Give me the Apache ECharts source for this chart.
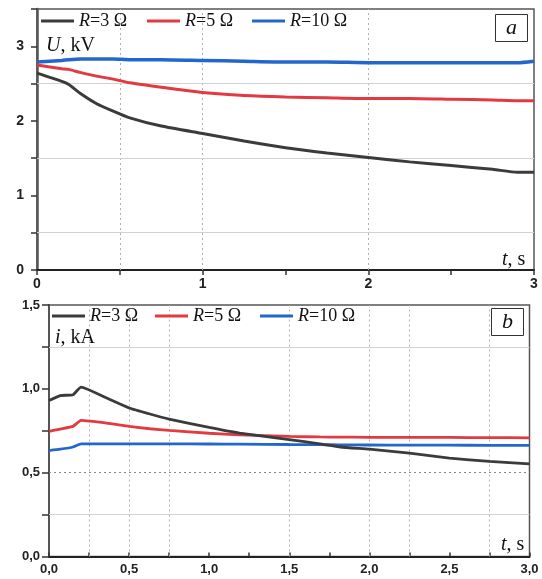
<!DOCTYPE html>
<html>
<head>
<meta charset="utf-8">
<script src="https://cdn.jsdelivr.net/npm/echarts@6/dist/echarts.min.js"></script>
<style>html,body{margin:0;padding:0;background:#fff;}#c{width:542px;height:579px;}</style>
</head>
<body>
<div id="c"></div>
<script>
// ---- Data: chart (a) voltage U, kV vs t, s ----
var tA   = [0, 0.15, 0.19, 0.26, 0.36, 0.46, 0.56, 0.75, 1.0, 1.25, 1.5, 1.75, 2.0, 2.25, 2.5, 2.75, 2.9, 3.0];
var uR3  = [2.64, 2.53, 2.49, 2.37, 2.23, 2.13, 2.04, 1.93, 1.83, 1.73, 1.64, 1.57, 1.51, 1.45, 1.40, 1.35, 1.31, 1.31];
var uR5  = [2.75, 2.70, 2.69, 2.65, 2.60, 2.56, 2.51, 2.45, 2.38, 2.34, 2.32, 2.31, 2.30, 2.30, 2.29, 2.28, 2.27, 2.27];
var uR10 = [2.79, 2.81, 2.82, 2.83, 2.83, 2.83, 2.82, 2.82, 2.81, 2.80, 2.79, 2.79, 2.78, 2.78, 2.78, 2.78, 2.78, 2.80];

// ---- Data: chart (b) current i, kA vs t, s ----
var tB   = [0, 0.07, 0.15, 0.2, 0.36, 0.5, 0.63, 0.75, 1.0, 1.19, 1.5, 1.69, 1.82, 2.0, 2.25, 2.5, 2.75, 3.0];
var iR3  = [0.93, 0.96, 0.965, 1.01, 0.945, 0.886, 0.85, 0.82, 0.77, 0.736, 0.697, 0.672, 0.653, 0.64, 0.617, 0.587, 0.567, 0.553];
var iR5  = [0.746, 0.76, 0.776, 0.812, 0.796, 0.776, 0.762, 0.752, 0.735, 0.726, 0.716, 0.713, 0.712, 0.711, 0.71, 0.71, 0.709, 0.708];
var iR10 = [0.632, 0.64, 0.653, 0.672, 0.672, 0.672, 0.672, 0.672, 0.671, 0.67, 0.668, 0.667, 0.666, 0.665, 0.664, 0.664, 0.663, 0.663];

// ---- Reference grid lines (axis values) ----
var gridXA = [0.5, 1, 2];
var gridYA = [0.5, 1.5, 2.5];
var gridXB = [0.25, 0.5, 0.75, 1.5, 2, 2.25, 2.75];
var gridYB = [0.25, 1.25];
var gridYBDotted = [0.5];

var seriesNames = ['R=3 Ω', 'R=5 Ω', 'R=10 Ω'];
var colors = ['#3b3b3b', '#e23a40', '#2467cc'];

function pairs(xs, ys) { return xs.map(function (x, k) { return [x, ys[k]]; }); }

var serif = '"Liberation Serif", "Times New Roman", serif';
var sans = '"Liberation Sans", Arial, sans-serif';
var G = '#d2d2d2', D = '#b0b0b0';

function legendItem(name, left, top) {
  return {
    data: [name], left: left, top: top, orient: 'horizontal',
    icon: 'rect', itemWidth: 33, itemHeight: 3, itemGap: 0, padding: 0,
    selectedMode: false,
    textStyle: { fontFamily: serif, fontSize: 18, color: '#111', rich: { i: { fontFamily: serif, fontSize: 18, fontStyle: 'italic', color: '#111' } } },
    formatter: function (n) { return '{i|R}' + n.slice(1); }
  };
}

function gridMarks(xs, ys, ysDotted) {
  var d = [];
  xs.forEach(function (v) { d.push({ xAxis: v, lineStyle: { type: [2, 3], color: D, width: 1 } }); });
  ys.forEach(function (v) { d.push({ yAxis: v, lineStyle: { type: 'solid', color: G, width: 1.2 } }); });
  (ysDotted || []).forEach(function (v) { d.push({ yAxis: v, lineStyle: { type: [2, 3], color: '#888', width: 1 } }); });
  return { silent: true, symbol: 'none', label: { show: false }, animation: false, z: 1, data: d };
}

function valueAxisLabel(size, comma, step) {
  return function (v) {
    var k = Math.round(v * 100);
    if (k % step !== 0) return '';
    return comma ? v.toFixed(1).replace('.', ',') : String(Math.round(v));
  };
}

var chart = echarts.init(document.getElementById('c'));
chart.setOption({
  backgroundColor: '#fff',
  animation: false,
  grid: [
    { left: 37, top: 9, right: 8, height: 261, show: true, borderColor: '#555', borderWidth: 1.5, backgroundColor: 'transparent' },
    { left: 49, top: 305, right: 12.5, height: 251.5, show: true, borderColor: '#555', borderWidth: 1.5, backgroundColor: 'transparent' }
  ],
  legend: [
    legendItem(seriesNames[0], 41, 12),
    legendItem(seriesNames[1], 147, 12),
    legendItem(seriesNames[2], 252, 12),
    legendItem(seriesNames[0], 52, 307),
    legendItem(seriesNames[1], 155, 307),
    legendItem(seriesNames[2], 260, 307)
  ],
  xAxis: [
    {
      gridIndex: 0, type: 'value', min: 0, max: 3, interval: 0.5,
      axisLine: { lineStyle: { color: '#222', width: 2 } },
      axisTick: { length: 5, lineStyle: { color: '#333', width: 1.5 } },
      axisLabel: { margin: 7, fontFamily: sans, fontWeight: 'bold', fontSize: 14, color: '#222', showMinLabel: true, showMaxLabel: true,
        formatter: valueAxisLabel(14, false, 100) },
      splitLine: { show: false }
    },
    {
      gridIndex: 1, type: 'value', min: 0, max: 3, interval: 0.25,
      axisLine: { lineStyle: { color: '#222', width: 2 } },
      axisTick: { inside: true, length: 4, lineStyle: { color: '#333', width: 1.5 } },
      axisLabel: { margin: 6, fontFamily: sans, fontWeight: 'bold', fontSize: 13, color: '#222', showMinLabel: true, showMaxLabel: true,
        formatter: valueAxisLabel(13, true, 50) },
      splitLine: { show: false }
    }
  ],
  yAxis: [
    {
      gridIndex: 0, type: 'value', min: 0, max: 3.5, interval: 0.5,
      axisLine: { show: true, lineStyle: { color: '#555', width: 2.5 } },
      axisTick: { show: true, length: 6, lineStyle: { color: '#333', width: 1.5 } },
      axisLabel: { margin: 13, fontFamily: sans, fontWeight: 'bold', fontSize: 14, color: '#222',
        formatter: valueAxisLabel(14, false, 100) },
      splitLine: { show: false }
    },
    {
      gridIndex: 1, type: 'value', min: 0, max: 1.5, interval: 0.25,
      axisLine: { show: true, lineStyle: { color: '#555', width: 2 } },
      axisTick: { show: true, length: 7, lineStyle: { color: '#333', width: 1.5 } },
      axisLabel: { margin: 9, fontFamily: sans, fontWeight: 'bold', fontSize: 13, color: '#222',
        formatter: valueAxisLabel(13, true, 50) },
      splitLine: { show: false }
    }
  ],
  series: [
    { name: seriesNames[0], type: 'line', xAxisIndex: 0, yAxisIndex: 0, data: pairs(tA, uR3), symbol: 'none', smooth: 0.2, color: colors[0], lineStyle: { width: 3, color: colors[0] }, z: 12 },
    { name: seriesNames[1], type: 'line', xAxisIndex: 0, yAxisIndex: 0, data: pairs(tA, uR5), symbol: 'none', smooth: 0.2, color: colors[1], lineStyle: { width: 3, color: colors[1] }, z: 11 },
    { name: seriesNames[2], type: 'line', xAxisIndex: 0, yAxisIndex: 0, data: pairs(tA, uR10), symbol: 'none', smooth: 0.2, color: colors[2], lineStyle: { width: 3.5, color: colors[2] }, z: 10,
      markLine: gridMarks(gridXA, gridYA) },
    { name: seriesNames[0], type: 'line', xAxisIndex: 1, yAxisIndex: 1, data: pairs(tB, iR3), symbol: 'none', smooth: 0.15, color: colors[0], lineStyle: { width: 2.8, color: colors[0] }, z: 12 },
    { name: seriesNames[1], type: 'line', xAxisIndex: 1, yAxisIndex: 1, data: pairs(tB, iR5), symbol: 'none', smooth: 0.15, color: colors[1], lineStyle: { width: 2.8, color: colors[1] }, z: 11 },
    { name: seriesNames[2], type: 'line', xAxisIndex: 1, yAxisIndex: 1, data: pairs(tB, iR10), symbol: 'none', smooth: 0.15, color: colors[2], lineStyle: { width: 2.8, color: colors[2] }, z: 10,
      markLine: gridMarks(gridXB, gridYB, gridYBDotted) }
  ],
  graphic: [
    { type: 'text', left: 46, top: 36, style: { text: '{i|U}, kV', font: '20px ' + serif, fill: '#111', rich: { i: { fontStyle: 'italic', fontFamily: serif, fontSize: 20, fill: '#111' } } } },
    { type: 'text', left: 502, top: 250, style: { text: '{i|t}, s', font: '20px ' + serif, fill: '#111', rich: { i: { fontStyle: 'italic', fontFamily: serif, fontSize: 20, fill: '#111' } } } },
    { type: 'rect', shape: { x: 495.5, y: 14.5, width: 32, height: 27 }, style: { fill: '#fff', stroke: '#333', lineWidth: 1 }, z: 10 },
    { type: 'text', x: 511.5, y: 28, style: { text: 'a', font: 'italic 22px ' + serif, fill: '#111', textAlign: 'center', textVerticalAlign: 'middle' }, z: 11 },
    { type: 'text', left: 55, top: 328, style: { text: '{i|i}, kA', font: '20px ' + serif, fill: '#111', rich: { i: { fontStyle: 'italic', fontFamily: serif, fontSize: 20, fill: '#111' } } } },
    { type: 'text', left: 501, top: 535, style: { text: '{i|t}, s', font: '20px ' + serif, fill: '#111', rich: { i: { fontStyle: 'italic', fontFamily: serif, fontSize: 20, fill: '#111' } } } },
    { type: 'rect', shape: { x: 491.5, y: 308.5, width: 32, height: 27 }, style: { fill: '#fff', stroke: '#333', lineWidth: 1 }, z: 10 },
    { type: 'text', x: 507.5, y: 322, style: { text: 'b', font: 'italic 22px ' + serif, fill: '#111', textAlign: 'center', textVerticalAlign: 'middle' }, z: 11 }
  ]
});
</script>
</body>
</html>
